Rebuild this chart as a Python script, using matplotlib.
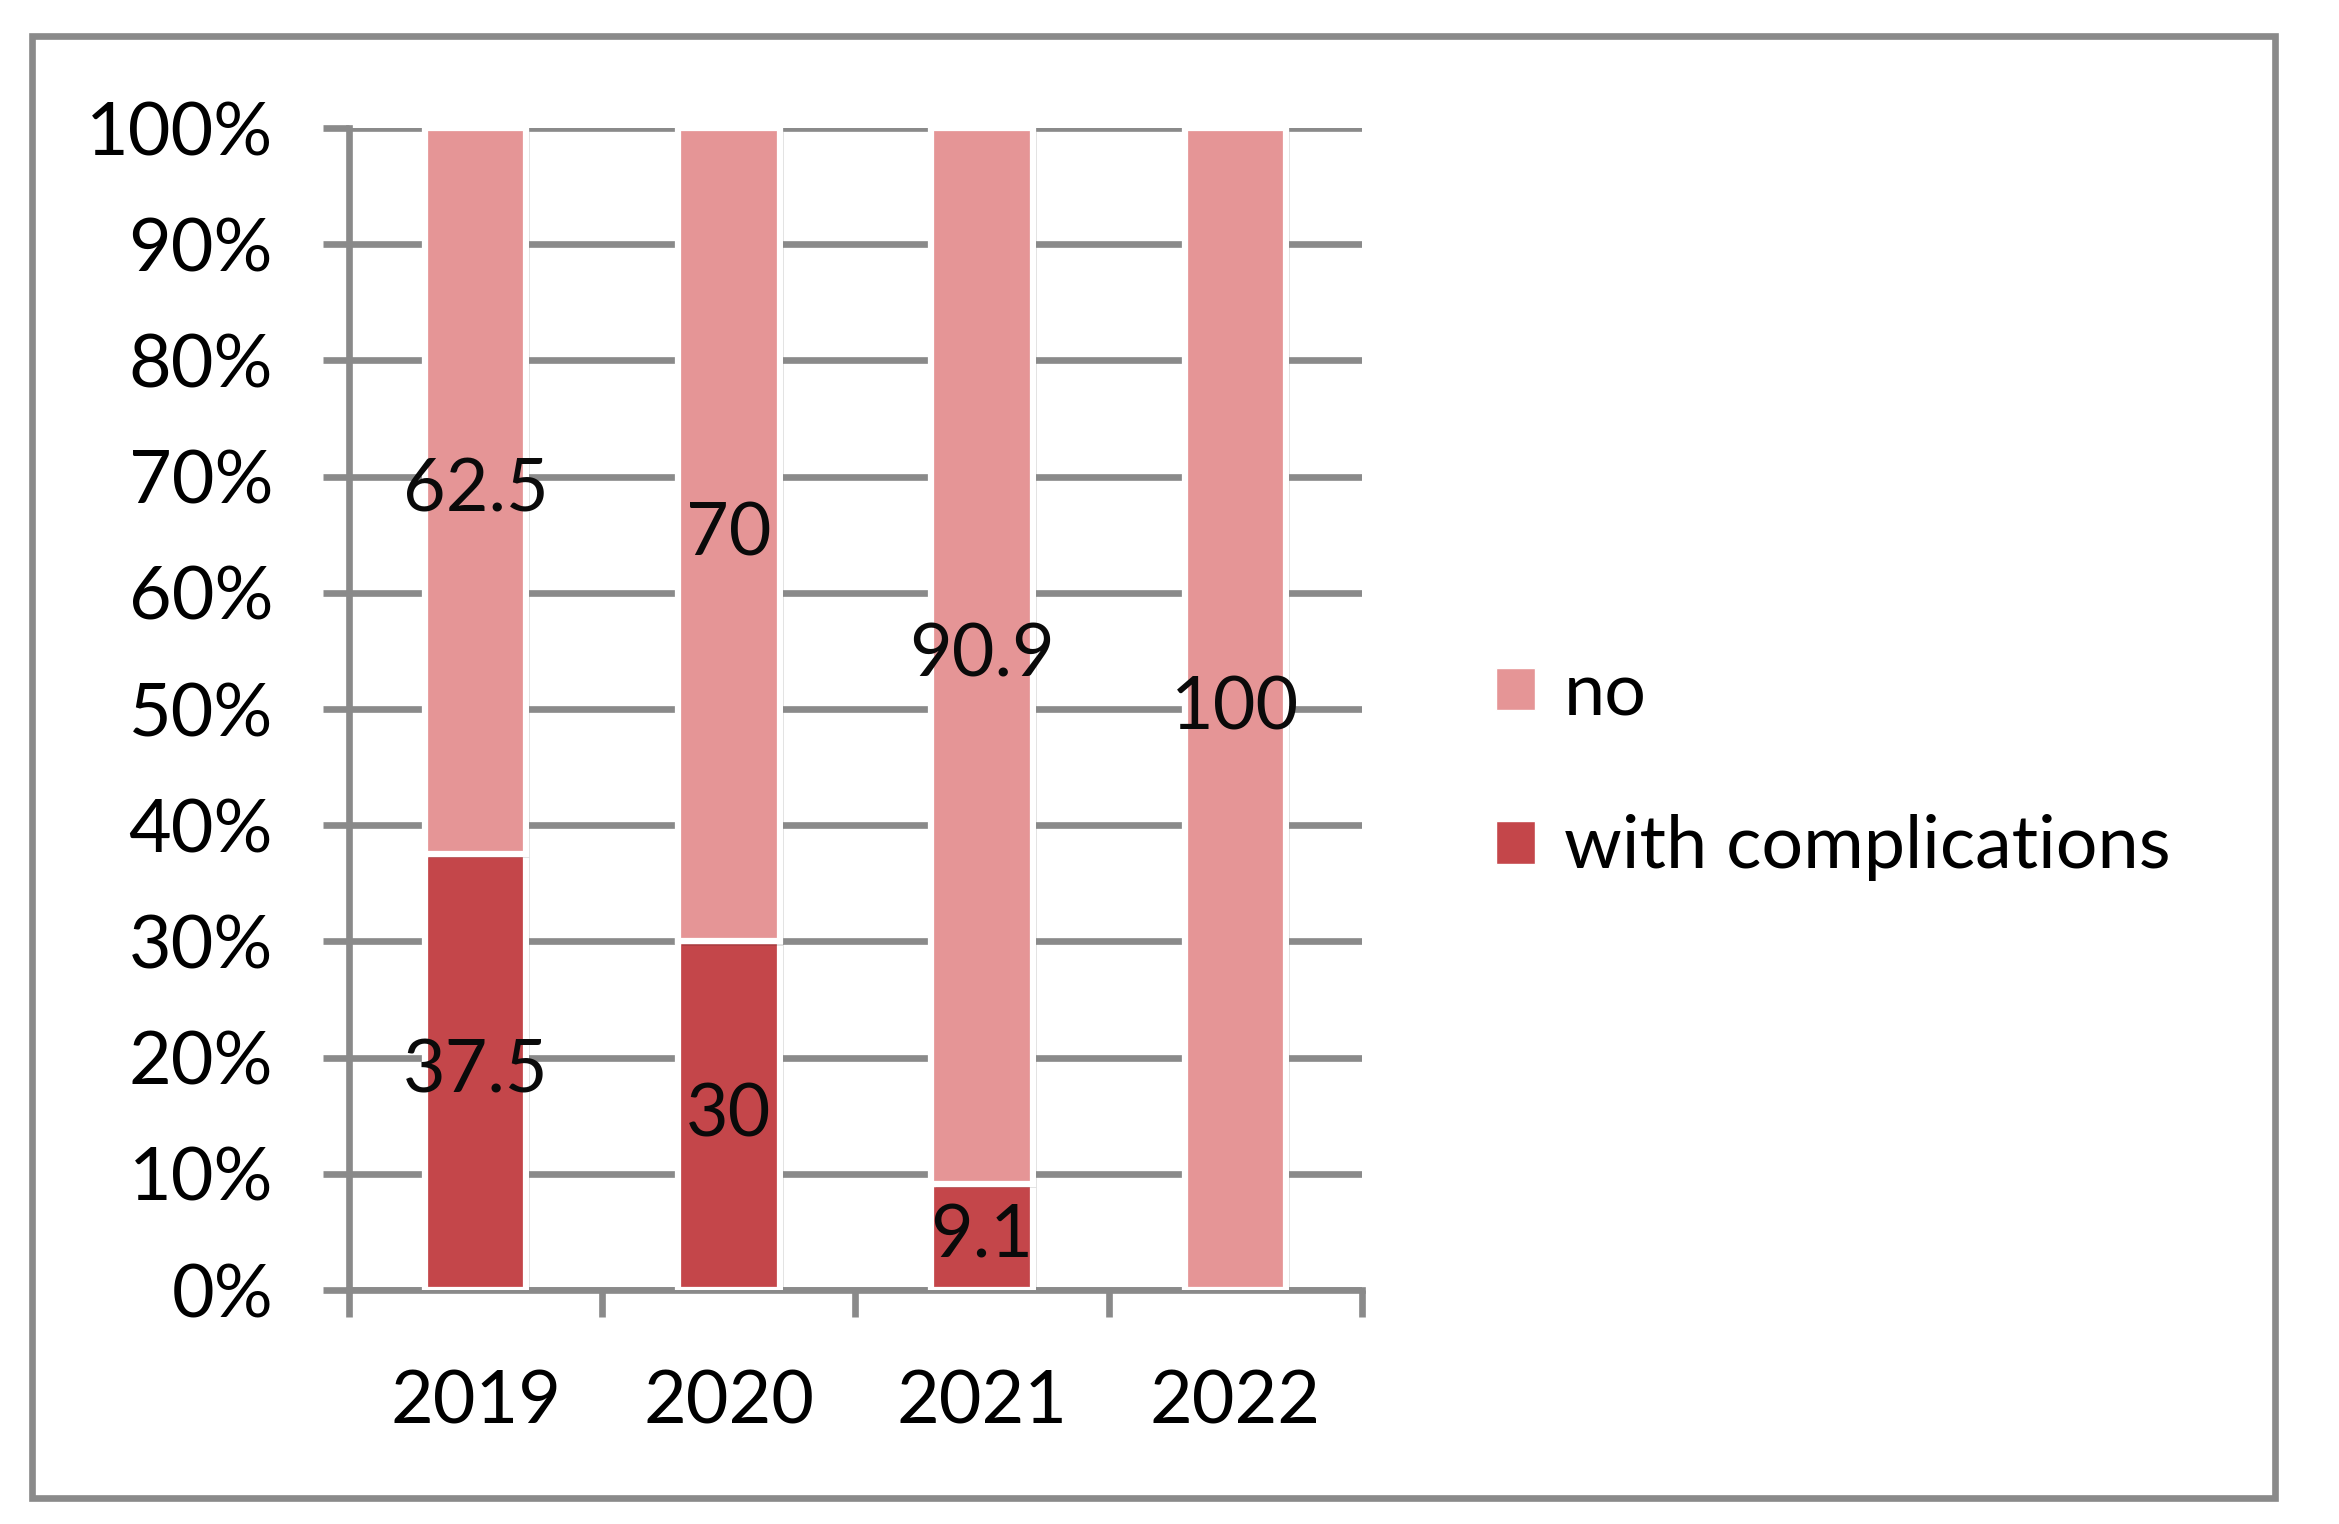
import matplotlib
matplotlib.use("Agg")
import matplotlib.pyplot as plt
import matplotlib.patheffects as pe
from matplotlib.patches import Patch, Rectangle

plt.rcParams['font.family'] = ['Lato', 'DejaVu Sans']

# data
years = ["2019", "2020", "2021", "2022"]
with_compl = [37.5, 30, 9.1, 0]
no_compl = [62.5, 70, 90.9, 100]
compl_labels = ["37.5", "30", "9.1", ""]
no_labels = ["62.5", "70", "90.9", "100"]
yticks = [0, 10, 20, 30, 40, 50, 60, 70, 80, 90, 100]

dark = "#C4464A"
light = "#E59596"
grey = "#8A8A8A"
fs = 53

fig = plt.figure(figsize=(23.39, 15.24), dpi=100)
ax = fig.add_axes([0.1492, 0.1535, 0.4331, 0.7625])

# outer frame
fig.patches.append(Rectangle((0.0137, 0.0171), 0.9589, 0.9593, transform=fig.transFigure,
                             fill=False, edgecolor=grey, linewidth=4.8))

x = range(len(years))
shadow = [pe.SimplePatchShadow(offset=(3, -3), shadow_rgbFace="#000000", alpha=0.12), pe.Normal()]
b1 = ax.bar(x, with_compl, width=0.4, color=dark, edgecolor="white", linewidth=4.5, zorder=3)
b2 = ax.bar(x, no_compl, bottom=with_compl, width=0.4, color=light, edgecolor="white",
            linewidth=4.5, zorder=3)
for p in list(b1) + list(b2):
    p.set_path_effects(shadow)

ax.bar_label(b1, labels=compl_labels, label_type="center", fontsize=fs, color="#0a0a0a", zorder=4)
ax.bar_label(b2, labels=no_labels, label_type="center", fontsize=fs, color="#0a0a0a", zorder=4)

ax.set_xlim(-0.5, 3.5)
ax.set_ylim(0, 100)
ax.set_yticks(yticks)
ax.set_yticklabels([f"{v}%" for v in yticks], fontsize=fs)
ax.yaxis.grid(True, color=grey, linewidth=4.8, zorder=1)
ax.set_axisbelow(True)
ax.tick_params(axis="y", length=18.7, width=4.8, color=grey, pad=36)

ax.set_xticks(list(x))
ax.set_xticklabels(years, fontsize=fs)
ax.set_xticks([-0.5, 0.5, 1.5, 2.5, 3.5], minor=True)
ax.tick_params(axis="x", which="major", length=0, pad=57)
ax.tick_params(axis="x", which="minor", length=19.5, width=4.8, color=grey)

for s in ["top", "right"]:
    ax.spines[s].set_visible(False)
for s in ["left", "bottom"]:
    ax.spines[s].set_color(grey)
    ax.spines[s].set_linewidth(4.8)

handles = [Patch(facecolor=light, edgecolor="white"), Patch(facecolor=dark, edgecolor="white")]
fig.legend(handles, ["no", "with complications"], loc="center left",
           bbox_to_anchor=(0.624, 0.494), frameon=False, fontsize=fs, borderpad=0,
           handlelength=0.52, handleheight=0.52, handletextpad=0.4, labelspacing=1.17)

fig.savefig("out.png", dpi=100)
